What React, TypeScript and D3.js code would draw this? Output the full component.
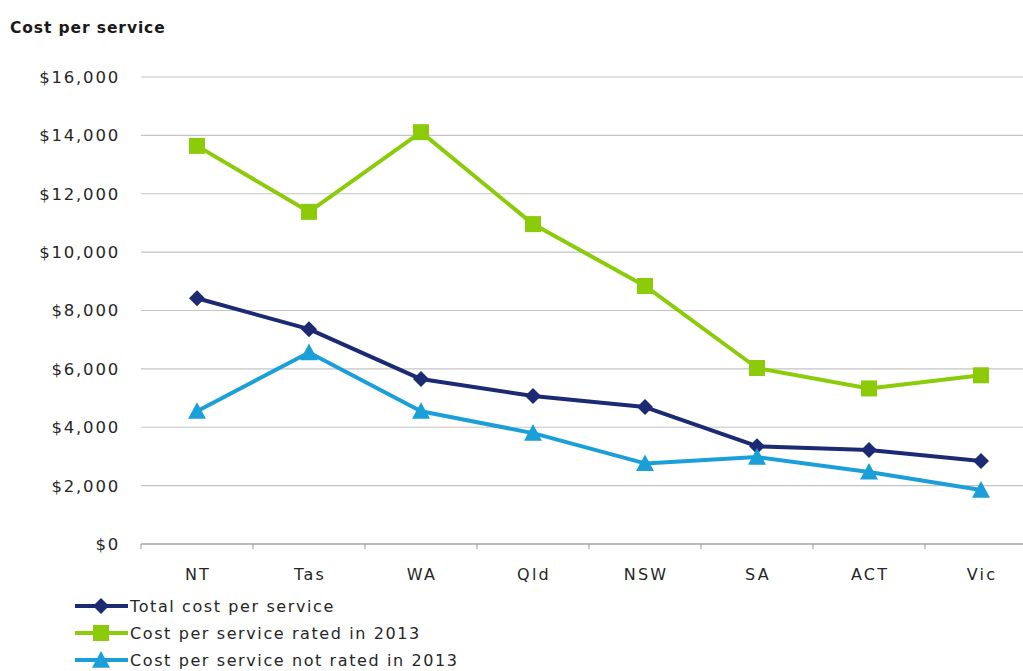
import React from "react";
import * as d3 from "d3";

const categories = ["NT", "Tas", "WA", "Qld", "NSW", "SA", "ACT", "Vic"];
const totalCost = [8420, 7360, 5650, 5070, 4690, 3350, 3220, 2840];
const ratedCost = [13640, 11380, 14110, 10960, 8840, 6030, 5330, 5780];
const notRatedCost = [4550, 6560, 4550, 3800, 2760, 2980, 2470, 1850];
const yTicks = [0, 2000, 4000, 6000, 8000, 10000, 12000, 14000, 16000];
const seriesNames = [
  "Total cost per service",
  "Cost per service rated in 2013",
  "Cost per service not rated in 2013",
];

const W = 1023;
const H = 671;
const left = 141;
const right = 1037;
const top = 77;
const bottom = 544;
const FONT = "'DejaVu Sans', Verdana, sans-serif";

const colors = ["#1B2A72", "#8CCB0A", "#1A9FD9"];
const shapes = ["diamond", "square", "triangle"];

function Marker({ shape, x, y, color }: { shape: string; x: number; y: number; color: string }) {
  if (shape === "diamond") {
    const s = 8;
    return <path d={`M${x},${y - s}L${x + s},${y}L${x},${y + s}L${x - s},${y}Z`} fill={color} />;
  }
  if (shape === "square") {
    const s = 8;
    return <rect x={x - s} y={y - s} width={2 * s} height={2 * s} fill={color} />;
  }
  const s = 9;
  return <path d={`M${x},${y - s}L${x + s},${y + s * 0.85}L${x - s},${y + s * 0.85}Z`} fill={color} />;
}

export default function App() {
  const x = d3.scaleBand<string>().domain(categories).range([left, right]);
  const y = d3.scaleLinear().domain([0, 16000]).range([bottom, top]);
  const fmt = (v: number) => "$" + d3.format(",")(v);
  const line = d3
    .line<number>()
    .x((_, i) => (x(categories[i]) as number) + x.bandwidth() / 2)
    .y((d) => y(d));
  const allSeries = [totalCost, ratedCost, notRatedCost];
  const tickXs = categories.map((c) => x(c) as number).concat([right]);

  return (
    <div style={{ position: "absolute", left: 0, top: 0 }}>
      <svg width={W} height={H} style={{ display: "block", background: "#fff" }}>
        <text x={10} y={33} fontFamily={FONT} fontSize={15.5} fontWeight="bold" fill="#1a1a1a" letterSpacing={0.9}>
          Cost per service
        </text>
        {yTicks.map((t) => (
          <g key={t}>
            {t > 0 && (
              <line x1={left} x2={W} y1={y(t)} y2={y(t)} stroke="#C4C4C4" strokeWidth={1.2} />
            )}
            <text
              x={120}
              y={y(t)}
              dy="0.36em"
              textAnchor="end"
              fontFamily={FONT}
              fontSize={16.5}
              fill="#262626"
              letterSpacing={1.8}
            >
              {fmt(t)}
            </text>
          </g>
        ))}
        <line x1={left} x2={W} y1={bottom} y2={bottom} stroke="#A6A6A6" strokeWidth={1.3} />
        {tickXs.map((tx, i) => (
          <line key={i} x1={tx} x2={tx} y1={bottom} y2={bottom + 5} stroke="#A6A6A6" strokeWidth={1.2} />
        ))}
        {categories.map((c) => (
          <text
            key={c}
            x={(x(c) as number) + x.bandwidth() / 2 + 1}
            y={580}
            textAnchor="middle"
            fontFamily={FONT}
            fontSize={16}
            fill="#262626"
            letterSpacing={2.2}
          >
            {c}
          </text>
        ))}
        {allSeries.map((s, si) => (
          <g key={si}>
            <path d={line(s) || ""} fill="none" stroke={colors[si]} strokeWidth={4} strokeLinejoin="round" />
            {s.map((v, i) => (
              <Marker
                key={i}
                shape={shapes[si]}
                x={(x(categories[i]) as number) + x.bandwidth() / 2}
                y={y(v)}
                color={colors[si]}
              />
            ))}
          </g>
        ))}
        {seriesNames.map((n, i) => {
          const ly = 606 + i * 27;
          return (
            <g key={n}>
              <line x1={75} x2={128} y1={ly} y2={ly} stroke={colors[i]} strokeWidth={4} />
              <Marker shape={shapes[i]} x={101} y={ly} color={colors[i]} />
              <text
                x={130}
                y={ly}
                dy="0.36em"
                fontFamily={FONT}
                fontSize={16}
                fill="#262626"
                letterSpacing={1.6}
              >
                {n}
              </text>
            </g>
          );
        })}
      </svg>
    </div>
  );
}
